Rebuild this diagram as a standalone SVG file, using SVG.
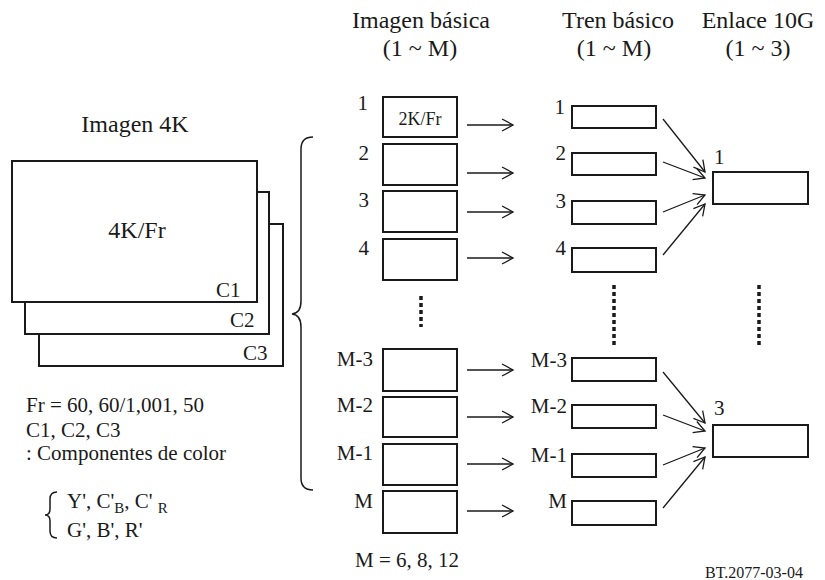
<svg xmlns="http://www.w3.org/2000/svg" width="825" height="580" viewBox="0 0 825 580">
<style>
text{font-family:"Liberation Serif","Times New Roman",serif;fill:#1a1a1a}
.h{font-size:24px;text-anchor:middle}
.l{font-size:21px}
.e{text-anchor:end}
.b{fill:#fff;stroke:#1a1a1a;stroke-width:2}
.a{stroke:#1a1a1a;stroke-width:1.3;fill:none;marker-end:url(#ah)}
.d{stroke:#1a1a1a;stroke-width:3.5;stroke-dasharray:4 3;fill:none}
.br{stroke:#1a1a1a;stroke-width:1.5;fill:none}
</style>
<defs>
<marker id="ah" markerUnits="userSpaceOnUse" markerWidth="14" markerHeight="14" viewBox="0 0 14 14" refX="12" refY="7" orient="auto">
<path d="M1,1 L12,7 L1,13" fill="none" stroke="#1a1a1a" stroke-width="1.3"/>
</marker>
<clipPath id="cr"><rect x="0" y="0" width="813" height="580"/></clipPath>
</defs>
<rect width="825" height="580" fill="#fff"/>

<!-- headers -->
<g id="headers">
<text class="h" x="135" y="132">Imagen 4K</text>
<text class="h" x="421" y="28">Imagen básica</text>
<text class="h" x="420" y="56">(1 ~ M)</text>
<text class="h" x="618" y="28">Tren básico</text>
<text class="h" x="614" y="56">(1 ~ M)</text>
<text class="h" x="758" y="28" clip-path="url(#cr)">Enlace 10G</text>
<text class="h" x="758" y="56">(1 ~ 3)</text>
</g>

<!-- 4K image stack -->
<g id="img4k">
<rect class="b" x="39" y="224" width="244" height="142"/>
<rect class="b" x="25" y="192" width="244" height="142"/>
<rect class="b" x="12" y="161" width="245" height="141"/>
<text class="h" x="137" y="238">4K/Fr</text>
<text class="l" x="216" y="297">C1</text>
<text class="l" x="230" y="327">C2</text>
<text class="l" x="243" y="360">C3</text>
</g>

<g id="notes">
<text class="l" x="26" y="412">Fr = 60, 60/1,001, 50</text>
<text class="l" x="26" y="437">C1, C2, C3</text>
<text class="l" x="26" y="460">: Componentes de color</text>
<path class="br" d="M57,492 Q50,492 50,499 L50,509 Q50,515 45,515 Q50,515 50,521 L50,531 Q50,538 57,538"/>
<text class="l" x="67" y="508">Y', C'<tspan font-size="15" dy="5">B</tspan><tspan dy="-5">, C' </tspan><tspan font-size="15" dy="5">R</tspan></text>
<text class="l" x="67" y="537">G', B', R'</text>
</g>

<path id="bigbrace" class="br" d="M313,137 Q301,137 301,149 L301,301 Q301,313 292,314 Q301,315 301,327 L301,478 Q301,490 313,490"/>

<!-- basic images -->
<g id="bi1"><rect class="b" x="383" y="97" width="74" height="40"/><text class="l e" x="368" y="110">1</text><text x="420" y="125" font-size="18" text-anchor="middle">2K/Fr</text></g>
<g id="bi2"><rect class="b" x="383" y="144" width="74" height="41"/><text class="l e" x="369" y="160">2</text></g>
<g id="bi3"><rect class="b" x="383" y="191" width="74" height="41"/><text class="l e" x="369" y="207">3</text></g>
<g id="bi4"><rect class="b" x="383" y="239" width="74" height="41"/><text class="l e" x="369" y="255">4</text></g>
<g id="biM3"><rect class="b" x="383" y="349" width="74" height="42"/><text class="l e" x="373" y="366">M-3</text></g>
<g id="biM2"><rect class="b" x="383" y="397" width="74" height="40"/><text class="l e" x="373" y="412">M-2</text></g>
<g id="biM1"><rect class="b" x="383" y="444" width="74" height="41"/><text class="l e" x="373" y="460">M-1</text></g>
<g id="biM"><rect class="b" x="383" y="491" width="74" height="42"/><text class="l e" x="373" y="508">M</text></g>
<text class="l" x="355" y="567">M = 6, 8, 12</text>

<!-- basic streams -->
<g id="bs1"><rect class="b" x="572" y="106" width="84" height="22"/><text class="l e" x="565" y="114">1</text></g>
<g id="bs2"><rect class="b" x="572" y="153" width="84" height="22"/><text class="l e" x="566" y="160">2</text></g>
<g id="bs3"><rect class="b" x="572" y="201" width="84" height="23"/><text class="l e" x="566" y="208">3</text></g>
<g id="bs4"><rect class="b" x="572" y="248" width="84" height="24"/><text class="l e" x="566" y="255">4</text></g>
<g id="bsM3"><rect class="b" x="572" y="358" width="84" height="23"/><text class="l e" x="567" y="367">M-3</text></g>
<g id="bsM2"><rect class="b" x="572" y="405" width="84" height="23"/><text class="l e" x="567" y="413">M-2</text></g>
<g id="bsM1"><rect class="b" x="572" y="454" width="84" height="23"/><text class="l e" x="567" y="462">M-1</text></g>
<g id="bsM"><rect class="b" x="572" y="501" width="84" height="24"/><text class="l e" x="567" y="508">M</text></g>

<!-- 10G links -->
<g id="lk1"><rect class="b" x="713" y="172" width="95" height="32"/><text class="l" x="714" y="164">1</text></g>
<g id="lk3"><rect class="b" x="713" y="425" width="95" height="32"/><text class="l" x="714" y="415">3</text></g>

<text x="705" y="578" font-size="16">BT.2077-03-04</text>

<g id="connectors">
<line class="a" x1="467" y1="125" x2="513" y2="125"/>
<line class="a" x1="467" y1="173" x2="513" y2="173"/>
<line class="a" x1="467" y1="212" x2="513" y2="212"/>
<line class="a" x1="467" y1="258" x2="513" y2="258"/>
<line class="a" x1="467" y1="370" x2="513" y2="370"/>
<line class="a" x1="467" y1="417" x2="513" y2="417"/>
<line class="a" x1="467" y1="464" x2="513" y2="464"/>
<line class="a" x1="467" y1="511" x2="513" y2="511"/>
<line class="a" x1="663" y1="119" x2="705" y2="172"/>
<line class="a" x1="663" y1="162" x2="705" y2="178"/>
<line class="a" x1="663" y1="212" x2="705" y2="195"/>
<line class="a" x1="663" y1="255" x2="705" y2="204"/>
<line class="a" x1="663" y1="372" x2="705" y2="423"/>
<line class="a" x1="663" y1="415" x2="705" y2="431"/>
<line class="a" x1="663" y1="465" x2="705" y2="448"/>
<line class="a" x1="663" y1="508" x2="705" y2="457"/>
<line class="d" x1="421" y1="296" x2="421" y2="327"/>
<line class="d" x1="614" y1="285" x2="614" y2="348"/>
<line class="d" x1="759" y1="285" x2="759" y2="348"/>
</g>
</svg>
